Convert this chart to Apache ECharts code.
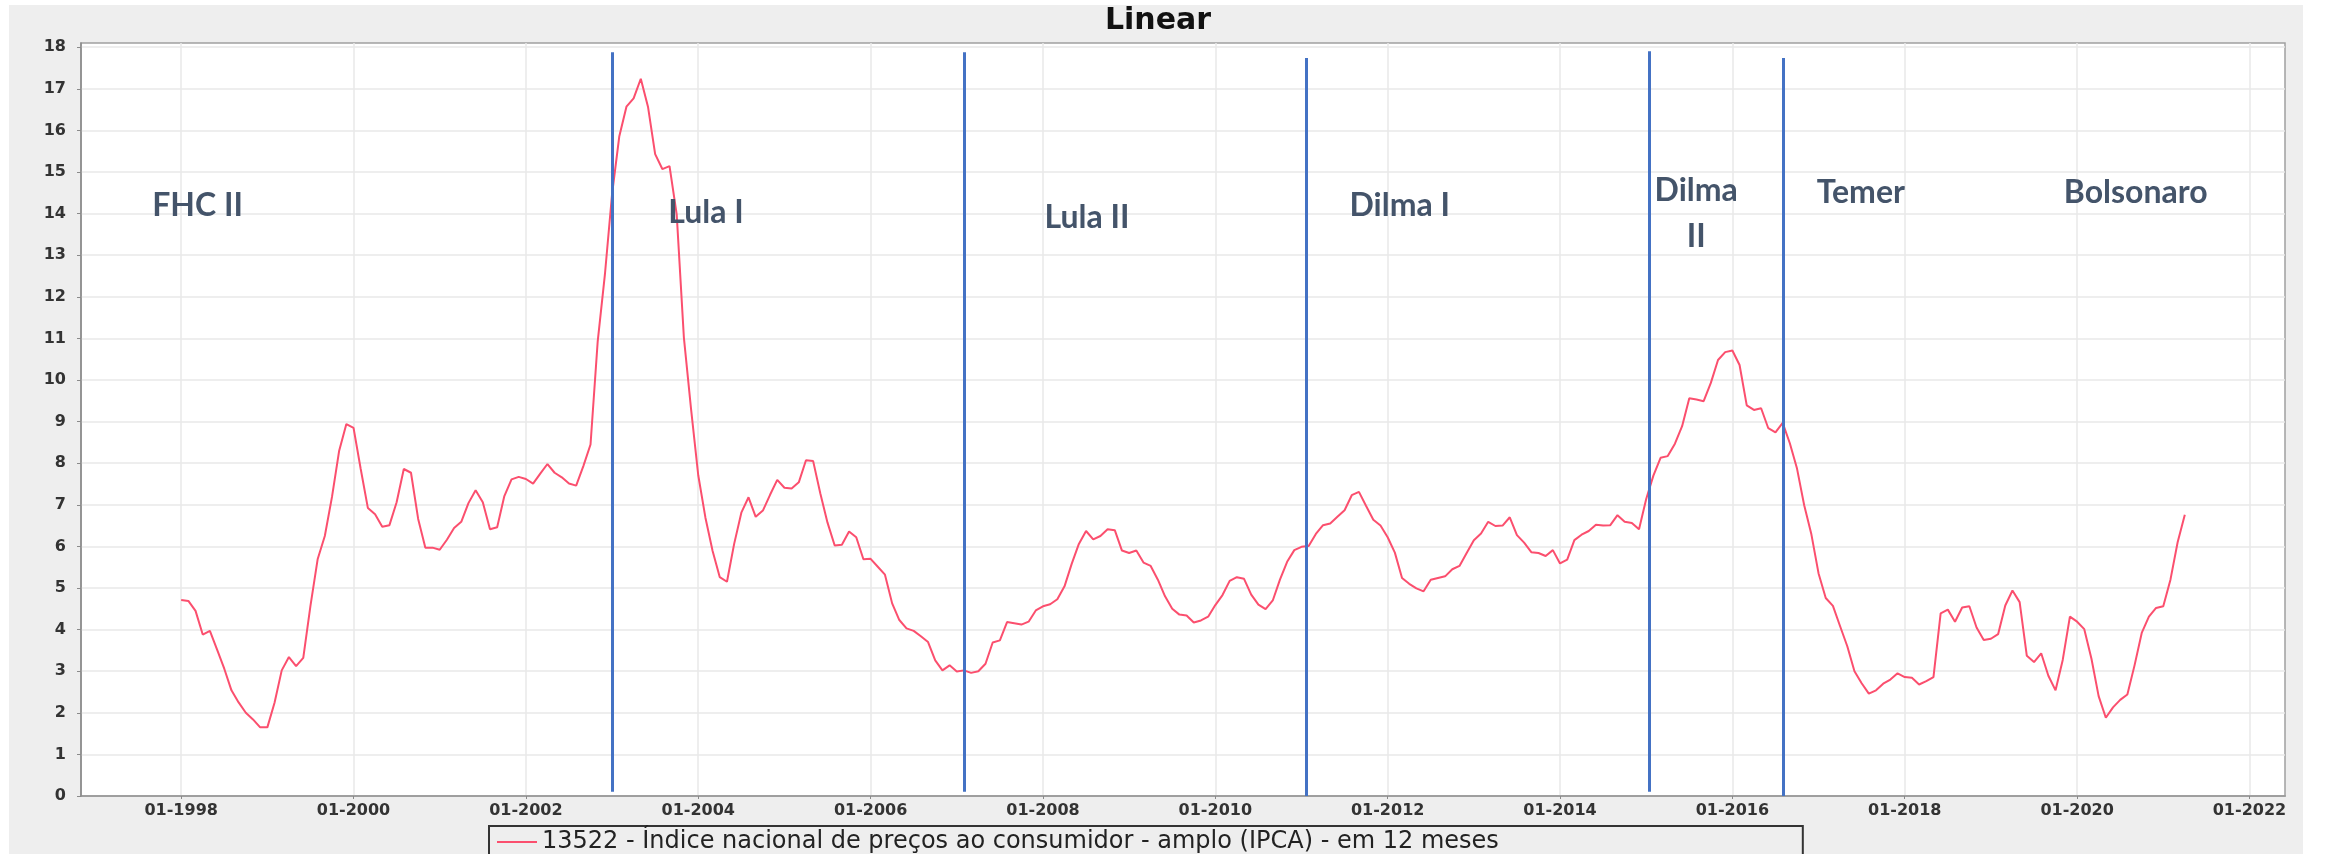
<!DOCTYPE html>
<html>
<head>
<meta charset="utf-8">
<title>IPCA em 12 meses</title>
<script src="https://cdn.jsdelivr.net/npm/echarts@6/dist/echarts.min.js"></script>
<style>
    html, body { margin: 0; padding: 0; background: #fff; }
    #chart {
        position: absolute;
        left: 9px;
        top: 5px;
        width: 2294px;
        height: 849px;
        background: #eeeeee;
    }
</style>
</head>
<body>
<div id="chart"></div>
<script>
// IPCA acumulado em 12 meses (%), mensal, de 01-1998 ate 04-2021
var startYear = 1998;
var ipca1998 = [4.71, 4.69, 4.45, 3.88, 3.97, 3.52, 3.06, 2.54, 2.25, 2.00, 1.84, 1.65];
var ipca1999 = [1.65, 2.24, 3.02, 3.34, 3.12, 3.32, 4.57, 5.69, 6.25, 7.19, 8.30, 8.94];
var ipca2000 = [8.85, 7.86, 6.92, 6.77, 6.47, 6.51, 7.06, 7.86, 7.77, 6.66, 5.97, 5.97];
var ipca2001 = [5.92, 6.16, 6.44, 6.59, 7.04, 7.35, 7.06, 6.41, 6.46, 7.21, 7.61, 7.67];
var ipca2002 = [7.62, 7.51, 7.75, 7.98, 7.77, 7.66, 7.51, 7.46, 7.93, 8.45, 10.93, 12.53];
var ipca2003 = [14.47, 15.85, 16.57, 16.77, 17.24, 16.57, 15.43, 15.07, 15.14, 13.98, 11.02, 9.30];
var ipca2004 = [7.71, 6.69, 5.89, 5.26, 5.15, 6.06, 6.81, 7.18, 6.71, 6.86, 7.24, 7.60];
var ipca2005 = [7.41, 7.39, 7.54, 8.07, 8.05, 7.27, 6.57, 6.02, 6.04, 6.36, 6.22, 5.69];
var ipca2006 = [5.70, 5.51, 5.32, 4.63, 4.23, 4.03, 3.97, 3.84, 3.70, 3.26, 3.02, 3.14];
var ipca2007 = [2.99, 3.02, 2.96, 3.00, 3.18, 3.69, 3.74, 4.18, 4.15, 4.12, 4.19, 4.46];
var ipca2008 = [4.56, 4.61, 4.73, 5.04, 5.58, 6.06, 6.37, 6.17, 6.25, 6.41, 6.39, 5.90];
var ipca2009 = [5.84, 5.90, 5.61, 5.53, 5.20, 4.80, 4.50, 4.36, 4.34, 4.17, 4.22, 4.31];
var ipca2010 = [4.59, 4.83, 5.17, 5.26, 5.22, 4.84, 4.60, 4.49, 4.70, 5.20, 5.63, 5.91];
var ipca2011 = [5.99, 6.01, 6.30, 6.51, 6.55, 6.71, 6.87, 7.23, 7.31, 6.97, 6.64, 6.50];
var ipca2012 = [6.22, 5.85, 5.24, 5.10, 4.99, 4.92, 5.20, 5.24, 5.28, 5.45, 5.53, 5.84];
var ipca2013 = [6.15, 6.31, 6.59, 6.49, 6.50, 6.70, 6.27, 6.09, 5.86, 5.84, 5.77, 5.91];
var ipca2014 = [5.59, 5.68, 6.15, 6.28, 6.37, 6.52, 6.50, 6.51, 6.75, 6.59, 6.56, 6.41];
var ipca2015 = [7.14, 7.70, 8.13, 8.17, 8.47, 8.89, 9.56, 9.53, 9.49, 9.93, 10.48, 10.67];
var ipca2016 = [10.71, 10.36, 9.39, 9.28, 9.32, 8.84, 8.74, 8.97, 8.48, 7.87, 6.99, 6.29];
var ipca2017 = [5.35, 4.76, 4.57, 4.08, 3.60, 3.00, 2.71, 2.46, 2.54, 2.70, 2.80, 2.95];
var ipca2018 = [2.86, 2.84, 2.68, 2.76, 2.86, 4.39, 4.48, 4.19, 4.53, 4.56, 4.05, 3.75];
var ipca2019 = [3.78, 3.89, 4.58, 4.94, 4.66, 3.37, 3.22, 3.43, 2.89, 2.54, 3.27, 4.31];
var ipca2020 = [4.19, 4.01, 3.30, 2.40, 1.88, 2.13, 2.31, 2.44, 3.14, 3.92, 4.31, 4.52];
var ipca2021 = [4.56, 5.20, 6.10, 6.76];

// ticks
var xTickYears = [1998, 2000, 2002, 2004, 2006, 2008, 2010, 2012, 2014, 2016, 2018, 2020, 2022];
var yTicks = [0, 1, 2, 3, 4, 5, 6, 7, 8, 9, 10, 11, 12, 13, 14, 15, 16, 17, 18];

// mandatos (inicio em ano decimal)
var termNames = ['FHC II', 'Lula I', 'Lula II', 'Dilma I', 'Dilma\nII', 'Temer', 'Bolsonaro'];
var termStarts = [2003.0, 2007.09, 2011.06, 2015.03, 2016.59, 2019.12];

var seriesName = '13522 - Índice nacional de preços ao consumidor - amplo (IPCA) - em 12 meses';

// monta a serie
var allValues = [].concat(ipca1998, ipca1999, ipca2000, ipca2001, ipca2002, ipca2003,
    ipca2004, ipca2005, ipca2006, ipca2007, ipca2008, ipca2009, ipca2010, ipca2011,
    ipca2012, ipca2013, ipca2014, ipca2015, ipca2016, ipca2017, ipca2018, ipca2019,
    ipca2020, ipca2021);
var lineData = allValues.map(function (v, i) { return [startYear + i / 12, v]; });

// margem de 5% em cada lado, como no grafico original
var xFirst = lineData[0][0];
var xLast = lineData[lineData.length - 1][0];
var xMin = xFirst - 0.05 * (xLast - xFirst);
var xMax = xLast + 0.05 * (xLast - xFirst);

// onde ficam os rotulos e as linhas azuis (layout)
var labelAnchorX = [1998.19, 2004.09, 2008.51, 2012.14, 2015.58, 2017.49, 2020.68];
var labelAnchorY = [14.18, 14.01, 13.91, 14.2, 14.0, 14.49, 14.49];
var lineTop = [17.88, 17.88, 17.74, 17.9, 17.74, 17.55];
var lineBottom = [0.1, 0.1, 0, 0.1, 0, -0.17];

var markLines = termStarts.map(function (x, i) {
    return [{ coord: [x, lineTop[i]] }, { coord: [x, lineBottom[i]] }];
});
var markPoints = termNames.map(function (n, i) {
    return { name: n, coord: [labelAnchorX[i], labelAnchorY[i]] };
});

var myChart = echarts.init(document.getElementById('chart'));

myChart.setOption({
    animation: false,
    backgroundColor: '#eeeeee',
    title: {
        text: 'Linear',
        left: 1149,
        top: 1,
        padding: 0,
        textAlign: 'center',
        textStyle: {
            fontFamily: 'DejaVu Sans',
            fontWeight: 'bold',
            fontSize: 30,
            color: '#111'
        }
    },
    legend: {
        data: [seriesName],
        left: 480,
        top: 821,
        orient: 'horizontal',
        selectedMode: false,
        icon: 'rect',
        itemWidth: 40,
        itemHeight: 2,
        padding: [4, 304, 8, 8],
        borderColor: '#333',
        borderWidth: 2,
        textStyle: {
            fontFamily: 'DejaVu Sans',
            fontSize: 24,
            color: '#222'
        }
    },
    grid: {
        left: 72,
        right: 18,
        top: 38,
        bottom: 58,
        show: true,
        backgroundColor: '#ffffff',
        borderColor: '#a0a0a0',
        borderWidth: 1.5
    },
    xAxis: {
        type: 'value',
        min: xMin,
        max: xMax,
        axisLine: { show: true, onZero: false, lineStyle: { color: '#8a8a8a', width: 1.5 } },
        axisTick: { show: true, customValues: xTickYears, length: 3, lineStyle: { color: '#8a8a8a' } },
        axisLabel: {
            customValues: xTickYears,
            formatter: function (v) { return '01-' + Math.round(v); },
            fontFamily: 'DejaVu Sans',
            fontWeight: 'bold',
            fontSize: 16,
            color: '#333',
            margin: 7
        },
        splitLine: { show: true, lineStyle: { color: '#e8e8e8', width: 1.5 } }
    },
    yAxis: {
        type: 'value',
        min: 0,
        max: 18.1,
        interval: 1,
        axisLine: { show: true, lineStyle: { color: '#8a8a8a', width: 1.5 } },
        axisTick: { show: true, customValues: yTicks, length: 4, lineStyle: { color: '#8a8a8a' } },
        axisLabel: {
            customValues: yTicks,
            fontFamily: 'DejaVu Sans',
            fontWeight: 'bold',
            fontSize: 16,
            color: '#333',
            margin: 15
        },
        splitLine: { show: true, lineStyle: { color: '#e8e8e8', width: 1.5 } }
    },
    series: [
        {
            name: seriesName,
            type: 'line',
            data: lineData,
            symbol: 'none',
            lineStyle: { color: '#fb4f6e', width: 2 },
            itemStyle: { color: '#fb4f6e' },
            markLine: {
                silent: true,
                symbol: ['none', 'none'],
                label: { show: false },
                lineStyle: { color: '#4472C4', width: 3, type: 'solid' },
                data: markLines
            },
            markPoint: {
                silent: true,
                symbol: 'circle',
                symbolSize: 1,
                itemStyle: { color: 'rgba(0,0,0,0)' },
                label: {
                    show: true,
                    position: 'inside',
                    formatter: '{b}',
                    fontFamily: 'Lato',
                    fontWeight: 'bold',
                    fontSize: 32,
                    lineHeight: 46,
                    align: 'center',
                    color: '#44546A'
                },
                data: markPoints
            }
        }
    ]
});
</script>
</body>
</html>
